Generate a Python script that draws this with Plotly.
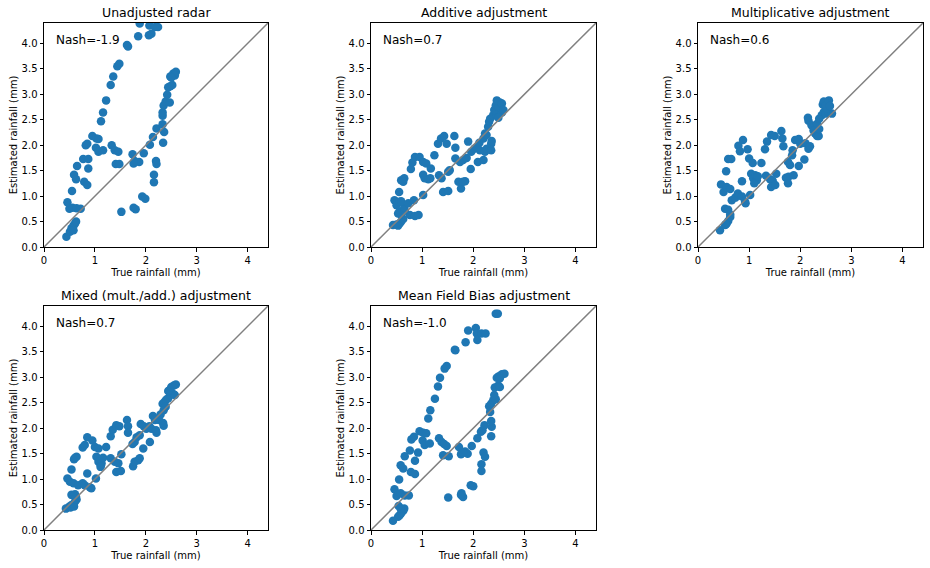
import plotly.graph_objects as go

# true vs estimated rainfall (mm)
unadj_true = [0.44, 0.51, 0.54, 0.58, 0.61, 0.63, 0.58, 0.50, 0.46, 0.56, 0.64, 0.72, 0.55, 0.59, 0.63,
              0.65, 0.77, 0.87, 0.87, 0.79, 0.85, 0.82, 0.85, 0.95, 1.03, 1.07, 1.02, 1.07, 1.16, 1.12,
              1.16, 1.22, 1.31, 1.36, 1.44, 1.48, 1.63, 1.65, 1.85, 1.88, 2.06, 2.11, 2.07, 2.18, 2.24,
              1.33, 1.39, 1.46, 1.41, 1.48, 1.52, 1.76, 1.80, 1.74, 1.78, 1.87, 1.76, 1.96, 1.93, 1.99,
              2.08, 2.14, 2.21, 2.20, 2.21, 2.16, 2.16, 2.34, 2.36, 2.33, 2.33, 2.33, 2.35, 2.39, 2.47,
              2.42, 2.48, 2.44, 2.52, 2.48, 2.54, 2.59, 2.57, 2.50, 2.30, 2.40]
unadj_est = [0.20, 0.30, 0.37, 0.42, 0.46, 0.50, 0.33, 0.75, 0.88, 0.77, 0.76, 0.75, 1.10, 1.42, 1.33,
             1.59, 1.73, 1.73, 1.54, 1.28, 1.22, 2.00, 2.03, 2.18, 2.13, 2.12, 1.95, 1.87, 1.90, 2.47,
             2.64, 2.88, 3.18, 3.35, 3.55, 3.60, 3.97, 3.94, 4.14, 4.39, 4.16, 4.19, 4.35, 4.32, 4.32,
             2.00, 1.90, 1.87, 1.63, 1.63, 0.69, 0.77, 0.74, 1.82, 1.69, 1.67, 1.64, 1.84, 0.99, 0.95,
             2.01, 2.16, 2.33, 1.69, 1.63, 1.42, 1.27, 2.05, 2.26, 2.41, 2.58, 2.64, 2.78, 2.86, 2.84,
             2.99, 3.16, 3.14, 3.18, 3.35, 3.41, 3.44, 3.37, 3.33, 4.50, 4.60]

add_true = [0.43, 0.50, 0.56, 0.59, 0.53, 0.63, 0.53, 0.59, 0.56, 0.66, 0.65, 0.46, 0.50, 0.56, 0.59,
            0.73, 0.84, 0.76, 0.86, 0.93, 0.55, 0.59, 0.65, 0.63, 0.78, 0.81, 0.86, 0.95, 1.02, 1.08,
            1.17, 1.02, 1.05, 1.12, 1.16, 1.02, 1.24, 1.31, 1.37, 1.43, 1.48, 1.33, 1.38, 1.41, 1.51,
            1.51, 1.54, 1.63, 1.65, 1.65, 1.74, 1.80, 1.87, 1.71, 1.76, 1.84, 1.80, 1.90, 1.95, 1.96,
            2.02, 2.07, 2.12, 2.13, 2.09, 2.20, 2.23, 2.26, 2.35, 2.20, 2.23, 2.26, 2.29, 2.35, 2.36,
            2.31, 2.33, 2.39, 2.46, 2.50, 2.56, 2.41, 2.44, 2.50, 2.52, 2.46, 2.56, 2.59, 2.49]
add_est = [0.43, 0.44, 0.46, 0.50, 0.42, 0.55, 0.66, 0.63, 0.69, 0.71, 0.77, 0.92, 0.82, 0.89, 0.90,
           0.86, 0.92, 0.63, 0.61, 0.63, 1.08, 1.31, 1.35, 1.28, 1.53, 1.66, 1.77, 1.77, 1.67, 1.64,
           1.54, 1.42, 1.35, 1.33, 1.35, 1.02, 1.80, 2.03, 2.13, 2.18, 2.03, 1.41, 1.35, 1.08, 1.10,
           1.48, 1.51, 2.18, 1.95, 1.74, 1.67, 1.71, 1.75, 1.28, 1.15, 1.29, 1.28, 2.07, 1.53, 1.87,
           1.93, 1.96, 2.05, 1.90, 1.67, 1.71, 1.87, 1.93, 1.90, 2.13, 2.23, 2.20, 2.36, 2.03, 2.08,
           2.46, 2.52, 2.59, 2.58, 2.65, 2.64, 2.69, 2.78, 2.75, 2.84, 2.88, 2.82, 2.69, 2.54]

mult_true = [0.43, 0.53, 0.56, 0.59, 0.63, 0.54, 0.53, 0.59, 0.63, 0.66, 0.73, 0.78, 0.86, 0.92, 0.93,
             0.45, 0.50, 0.56, 0.63, 0.55, 0.59, 0.65, 0.86, 1.02, 0.79, 0.82, 0.88, 0.97, 1.00, 1.07,
             1.04, 1.08, 1.12, 1.15, 1.10, 1.17, 1.24, 1.31, 1.35, 1.43, 1.50, 1.33, 1.41, 1.46, 1.43,
             1.51, 1.53, 1.63, 1.65, 1.67, 1.72, 1.77, 1.87, 1.76, 1.76, 1.80, 1.85, 1.84, 1.90, 1.97,
             2.00, 1.97, 2.08, 2.10, 2.16, 2.19, 2.15, 2.16, 2.22, 2.26, 2.29, 2.33, 2.36, 2.37, 2.33,
             2.37, 2.42, 2.46, 2.50, 2.56, 2.62, 2.52, 2.44, 2.46, 2.50, 2.56, 2.58]
mult_est = [0.33, 0.43, 0.46, 0.51, 0.59, 0.44, 0.75, 0.73, 0.64, 0.92, 0.97, 1.05, 0.99, 0.89, 0.86,
            1.23, 1.08, 1.18, 1.14, 1.49, 1.73, 1.73, 1.29, 1.02, 1.99, 1.88, 2.10, 1.92, 1.74, 1.65,
            1.44, 1.35, 1.41, 1.31, 1.25, 1.39, 1.65, 1.92, 2.07, 2.20, 2.18, 1.40, 1.33, 1.30, 1.18,
            1.22, 1.44, 2.28, 2.13, 1.98, 1.36, 1.38, 1.41, 1.25, 1.67, 1.61, 1.90, 1.80, 2.10, 2.12,
            2.03, 1.59, 1.72, 2.04, 1.93, 1.98, 2.54, 2.48, 2.39, 2.29, 2.23, 2.18, 2.18, 2.32, 2.42,
            2.52, 2.59, 2.65, 2.62, 2.64, 2.62, 2.72, 2.80, 2.86, 2.78, 2.88, 2.77]

mixed_true = [0.43, 0.50, 0.54, 0.58, 0.61, 0.52, 0.59, 0.54, 0.61, 0.64, 0.63, 0.46, 0.51, 0.58, 0.67,
              0.76, 0.80, 0.90, 0.93, 0.54, 0.59, 0.64, 0.61, 0.76, 0.80, 0.85, 0.95, 1.00, 1.07, 0.85,
              1.02, 1.03, 1.07, 1.12, 1.13, 1.16, 1.11, 1.22, 1.31, 1.35, 1.42, 1.48, 1.31, 1.39, 1.46,
              1.42, 1.51, 1.52, 1.63, 1.65, 1.65, 1.74, 1.78, 1.82, 1.88, 1.75, 1.78, 1.85, 1.88, 1.90,
              1.96, 2.01, 2.07, 2.11, 1.95, 2.08, 2.14, 2.18, 2.21, 2.20, 2.26, 2.34, 2.35, 2.29, 2.33,
              2.37, 2.40, 2.44, 2.48, 2.54, 2.57, 2.47, 2.44, 2.50, 2.55, 2.59, 2.39, 2.35]
mixed_est = [0.42, 0.46, 0.49, 0.51, 0.56, 0.44, 0.46, 0.69, 0.70, 0.60, 0.65, 1.01, 0.95, 0.92, 0.88,
             0.92, 0.88, 0.84, 0.82, 1.19, 1.39, 1.44, 1.42, 1.62, 1.67, 1.82, 1.76, 1.63, 1.60, 1.11,
             1.01, 1.44, 1.34, 1.27, 1.31, 1.42, 1.24, 1.63, 1.84, 1.97, 2.06, 2.04, 1.41, 1.34, 1.31,
             1.14, 1.16, 1.49, 2.16, 2.04, 1.91, 1.69, 1.73, 1.82, 1.86, 1.25, 1.34, 1.37, 1.41, 2.08,
             2.04, 1.99, 2.04, 1.99, 1.60, 1.73, 2.24, 2.16, 1.91, 1.96, 2.16, 2.10, 2.05, 2.27, 2.48,
             2.52, 2.56, 2.59, 2.65, 2.67, 2.65, 2.75, 2.73, 2.81, 2.84, 2.86, 2.42, 2.35]

mfb_true = [0.43, 0.53, 0.56, 0.59, 0.63, 0.65, 0.58, 0.54, 0.46, 0.50, 0.58, 0.66, 0.74, 0.55, 0.58,
            0.63, 0.66, 0.76, 0.92, 0.86, 0.78, 0.86, 0.79, 0.84, 0.95, 1.02, 1.08, 1.01, 1.05, 1.15,
            1.12, 1.16, 1.25, 1.31, 1.35, 1.44, 1.48, 1.64, 1.65, 1.85, 1.90, 2.05, 2.07, 2.08, 2.16,
            2.24, 2.44, 2.48, 1.33, 1.38, 1.43, 1.48, 1.41, 1.52, 1.51, 1.77, 1.80, 1.76, 1.72, 1.76,
            1.84, 1.89, 1.80, 1.97, 1.95, 2.00, 2.08, 2.15, 2.18, 2.22, 2.20, 2.23, 2.16, 2.16, 2.35,
            2.36, 2.35, 2.33, 2.31, 2.35, 2.39, 2.44, 2.41, 2.42, 2.49, 2.52, 2.46, 2.50, 2.56, 2.61,
            2.52]
mfb_est = [0.18, 0.26, 0.29, 0.33, 0.38, 0.42, 0.42, 0.47, 0.80, 0.67, 0.72, 0.68, 0.68, 0.99, 1.27,
           1.21, 1.45, 1.56, 1.52, 1.36, 1.14, 1.10, 1.78, 1.83, 1.94, 1.91, 1.90, 1.76, 1.67, 1.70,
           2.19, 2.35, 2.58, 2.82, 2.99, 3.17, 3.22, 3.54, 3.53, 3.69, 3.92, 3.97, 3.86, 3.73, 3.86,
           3.86, 4.25, 4.25, 1.80, 1.73, 1.69, 1.65, 1.47, 1.45, 0.64, 0.72, 0.65, 0.69, 1.63, 1.49,
           1.54, 1.50, 1.52, 1.65, 0.88, 0.86, 1.80, 1.93, 1.96, 2.06, 1.52, 1.44, 1.29, 1.16, 1.84,
           2.03, 2.14, 2.32, 2.43, 2.48, 2.55, 2.57, 2.65, 2.80, 2.84, 2.81, 2.99, 3.02, 3.06, 3.07,
           2.98]

titles = ["Unadjusted radar", "Additive adjustment", "Multiplicative adjustment",
          "Mixed (mult./add.) adjustment", "Mean Field Bias adjustment"]
nash = [-1.9, 0.7, 0.6, 0.7, -1.0]
x_series = [unadj_true, add_true, mult_true, mixed_true, mfb_true]
y_series = [unadj_est, add_est, mult_est, mixed_est, mfb_est]

lims = [0, 4.4]
W, H = 930, 568

# panel boxes in pixels (left, right, top, bottom), matplotlib-like grid
boxes = [(44, 268, 23, 247), (371, 596, 23, 247), (698, 923, 23, 247),
         (44, 268, 306, 530), (371, 596, 306, 530)]

fig = go.Figure()
font = dict(family="DejaVu Sans", color="black")

for i in range(5):
    n = "" if i == 0 else str(i + 1)
    xa, ya = "x" + n, "y" + n
    l, r, t, b = boxes[i]
    fig.add_trace(go.Scatter(x=x_series[i], y=y_series[i], mode="markers", xaxis=xa, yaxis=ya,
                             marker=dict(color="#1f77b4", size=8.5, line_width=0), showlegend=False))
    fig.add_trace(go.Scatter(x=lims, y=lims, mode="lines", xaxis=xa, yaxis=ya,
                             line=dict(color="gray", width=1.5), showlegend=False))
    common = dict(range=lims, showgrid=False, zeroline=False, showline=True, mirror=True,
                  linecolor="black", linewidth=1, ticks="outside", ticklen=3.5, tickcolor="black",
                  automargin=False, tickfont=dict(size=10, **font))
    fig.layout["xaxis" + n] = dict(common, domain=[l / W, r / W], anchor=ya, dtick=1,
                                   title=dict(text="True rainfall (mm)", font=dict(size=10, **font), standoff=4))
    fig.layout["yaxis" + n] = dict(common, domain=[1 - b / H, 1 - t / H], anchor=xa, dtick=0.5,
                                   tickformat=".1f",
                                   title=dict(text="Estimated rainfall (mm)", font=dict(size=10, **font), standoff=2))
    fig.add_annotation(text=titles[i], xref=xa + " domain", yref=ya + " domain", x=0.5, y=1,
                       xanchor="center", yanchor="bottom", yshift=1, showarrow=False,
                       font=dict(size=12.5, **font))
    fig.add_annotation(text="Nash=%.1f" % nash[i], xref=xa + " domain", yref=ya + " domain",
                       x=0.045, y=0.925, xanchor="left", yanchor="middle", showarrow=False,
                       font=dict(size=12, **font))

fig.update_layout(width=W, height=H, margin=dict(l=0, r=0, t=0, b=0),
                  plot_bgcolor="white", paper_bgcolor="white", font=font)
# drop the default page margin so the figure sits at the window corner
fig.write_html("out.html", config={"displayModeBar": False},
               post_script="document.body.style.margin = '0';")
